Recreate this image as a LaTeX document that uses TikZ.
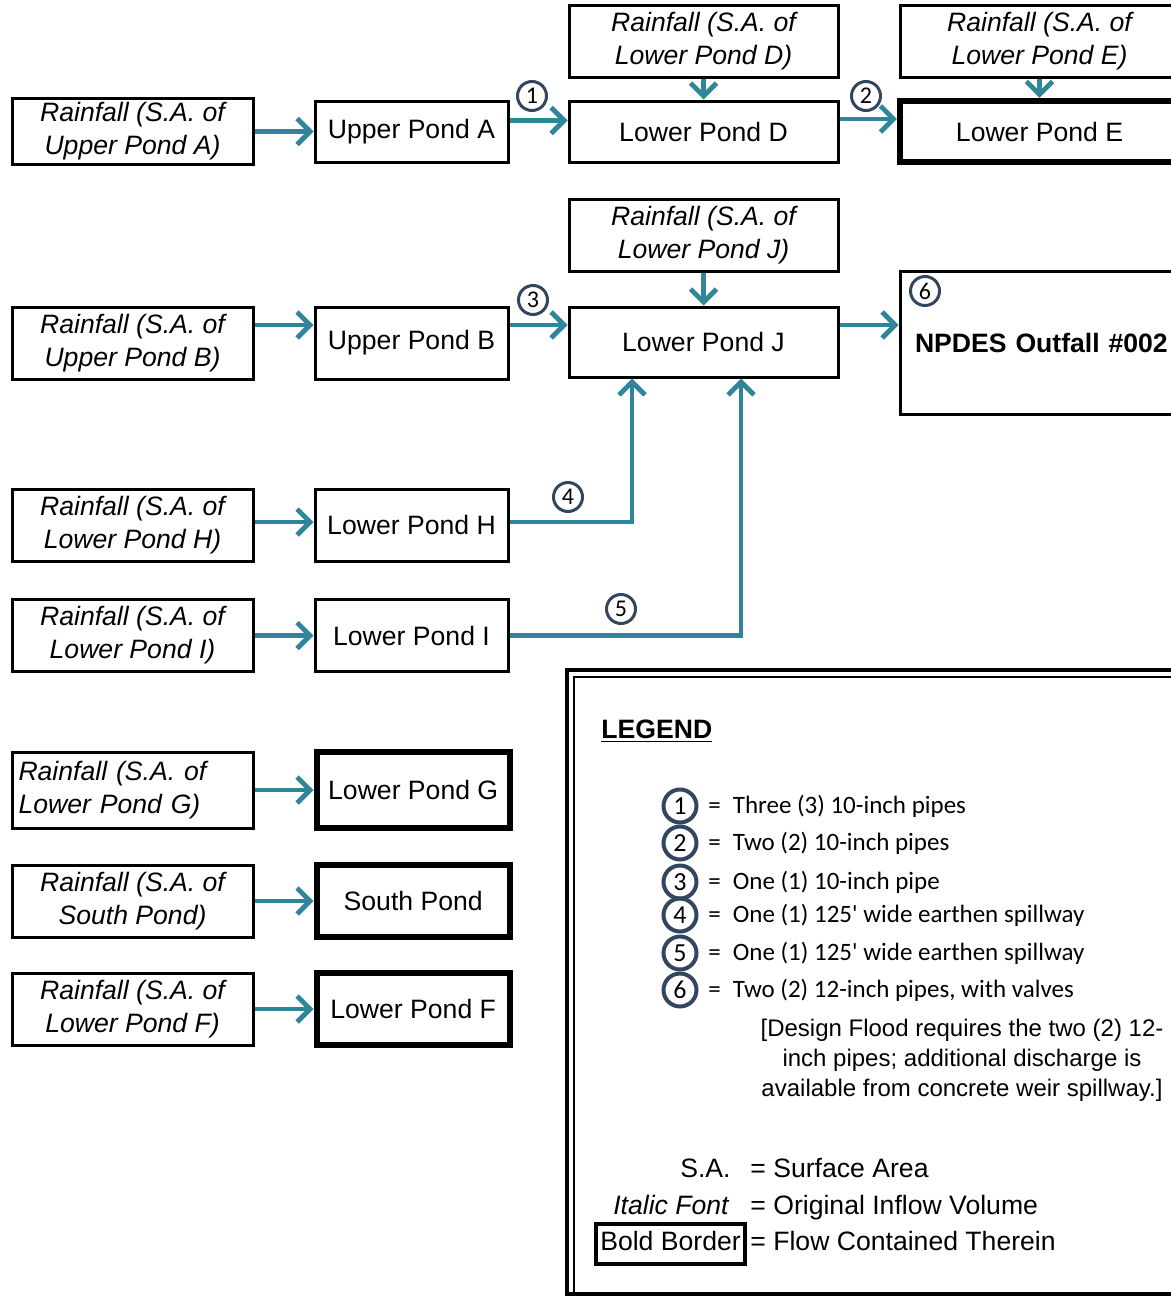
\documentclass[tikz,border=0pt]{standalone}
\usepackage{fontspec}
\setmainfont{Liberation Sans}
\newfontfamily\calibri{Carlito}
\usetikzlibrary{positioning, arrows.meta}
\definecolor{pipeteal}{RGB}{49,133,155}
\definecolor{ringblue}{RGB}{50,70,95}
\newcommand{\boxsize}{\fontsize{13.3}{16.5}\selectfont}
\tikzset{
x=0.5pt, y=-0.5pt, % one unit = one pixel of the sketch
node distance=29.5pt, % gap between rainfall box and its pond
pond/.style={draw, line width=1.5pt, font=\boxsize, align=center, minimum width=96.5pt, minimum height=36pt, inner sep=2pt},
rain/.style={pond, font=\boxsize\itshape, minimum width=120.5pt}, % original inflow
wide/.style={minimum width=134.5pt},
bold/.style={line width=3.2pt}, % flow contained therein
flow/.style={draw=pipeteal, line width=2.4pt, -{Straight Barb[length=6.5pt, width=13pt]}},
num/.style={circle, draw=ringblue, line width=1.5pt, minimum size=14.5pt, inner sep=0pt, font=\calibri\fontsize{12}{12}\selectfont},
lnum/.style={num, minimum size=16.5pt, line width=2pt, font=\calibri\fontsize{13}{13}\selectfont},
ltext/.style={anchor=west, inner sep=0pt, font=\calibri\fontsize{12.5}{15}\selectfont},
key/.style={inner sep=0pt, font=\boxsize, text height=1.6ex, text depth=.3ex},
}
\begin{document}
\begin{tikzpicture}
\useasboundingbox (0,0) rectangle (1171,1296);

% left column
\node[rain, minimum height=30.5pt] (rainA) at (132.5,131.5) {Rainfall (S.A. of\\Upper Pond A)};
\node[pond, minimum height=30.5pt, right=of rainA] (upA) {Upper Pond A};
\node[rain] (rainB) at (132.5,343) {Rainfall (S.A. of\\Upper Pond B)};
\node[pond, right=of rainB] (upB) {Upper Pond B};
\node[rain] (rainH) at (132.5,525) {Rainfall (S.A. of\\Lower Pond H)};
\node[pond, right=of rainH] (lowH) {Lower Pond H};
\node[rain] (rainI) at (132.5,635.5) {Rainfall (S.A. of\\Lower Pond I)};
\node[pond, right=of rainI] (lowI) {Lower Pond I};
\node[rain, minimum height=38pt, align=left, text width=114pt] (rainG) at (132.5,790) {Rainfall (S.A. of\\Lower Pond G)};
\node[pond, bold, minimum height=38pt, right=of rainG] (lowG) {Lower Pond G};
\node[rain] (rainS) at (132.5,901) {Rainfall (S.A. of\\South Pond)};
\node[pond, bold, right=of rainS] (south) {South Pond};
\node[rain] (rainF) at (132.5,1009) {Rainfall (S.A. of\\Lower Pond F)};
\node[pond, bold, right=of rainF] (lowF) {Lower Pond F};

% middle and right
\node[pond, wide, minimum height=30.5pt] (lowD) at (703.5,131.5) {Lower Pond D};
\node[rain, wide, above=10.5pt of lowD] (rainD) {Rainfall (S.A. of\\Lower Pond D)};
\node[pond, bold, minimum width=139.5pt, minimum height=30.5pt] (lowE) at (1039.5,131.5) {Lower Pond E};
\node[rain, minimum width=139.5pt, above=9.5pt of lowE] (rainE) {Rainfall (S.A. of\\Lower Pond E)};
\node[pond, wide, minimum height=35pt] (lowJ) at (703.5,342) {Lower Pond J};
\node[rain, wide, above=16.5pt of lowJ] (rainJ) {Rainfall (S.A. of\\Lower Pond J)};
\node[pond, font=\boxsize\bfseries, align=left, text width=130pt, inner xsep=7.5pt, minimum width=145pt, minimum height=71.5pt] (npdes) at (1045,342.5) {NPDES Outfall \#002};

% pipes and spillways
\draw[flow] (rainA) -- (upA);
\draw[flow] ([yshift=5.5pt]upA.east) -- ([yshift=5.5pt]lowD.west);
\draw[flow] (rainD) -- (lowD);
\draw[flow] ([yshift=6.25pt]lowD.east) -- ([yshift=6.25pt]lowE.west);
\draw[flow] (rainE) -- (lowE);
\draw[flow] ([yshift=9pt]rainB.east) -- ([yshift=9pt]upB.west);
\draw[flow] ([yshift=9pt]upB.east) -- ([yshift=8.5pt]lowJ.west);
\draw[flow] (rainJ) -- (lowJ);
\draw[flow] ([yshift=8.5pt]lowJ.east) -- ([yshift=8.75pt]npdes.west);
\draw[flow] ([yshift=1.5pt]rainH.east) -- ([yshift=1.5pt]lowH.west);
\draw[flow] ([yshift=1.5pt]lowH.east) -| ([xshift=-35.75pt]lowJ.south);
\draw[flow] (rainI) -- (lowI);
\draw[flow] (lowI.east) -| ([xshift=18.75pt]lowJ.south);
\draw[flow] (rainG) -- (lowG);
\draw[flow] (rainS) -- (south);
\draw[flow] (rainF) -- (lowF);

\node[num] (c1) at (532,96) {1};
\node[num] (c2) at (866,96) {2};
\node[num] (c3) at (533,300) {3};
\node[num] (c4) at (568,497) {4};
\node[num] (c5) at (621,609) {5};
\node[num] (c6) at (925,291) {6};

% legend
\draw[line width=1.8pt] (567,670) rectangle (1195,1294);
\draw[line width=1pt] (574,1300) -- (574,677) -- (1195,677);
\node[anchor=west, inner sep=0pt, font=\boxsize\bfseries] (legend) at (601,731) {\underline{LEGEND}};

\node[lnum] (l1) at (680,806) {1};
\node[ltext] at (708,806) {=\hspace{6pt}Three (3) 10-inch pipes};
\node[lnum] (l2) at (680,843) {2};
\node[ltext] at (708,843) {=\hspace{6pt}Two (2) 10-inch pipes};
\node[lnum] (l3) at (680,882) {3};
\node[ltext] at (708,882) {=\hspace{6pt}One (1) 10-inch pipe};
\node[lnum] (l4) at (680,915) {4};
\node[ltext] at (708,915) {=\hspace{6pt}One (1) 125' wide earthen spillway};
\node[lnum] (l5) at (680,953) {5};
\node[ltext] at (708,953) {=\hspace{6pt}One (1) 125' wide earthen spillway};
\node[lnum] (l6) at (680,990) {6};
\node[ltext] at (708,990) {=\hspace{6pt}Two (2) 12-inch pipes, with valves};
\node[align=center, inner sep=0pt, font=\fontsize{12}{15}\selectfont] (flood) at (962,1060) {[Design Flood requires the two (2) 12-\\inch pipes; additional discharge is\\available from concrete weir spillway.]};

\node[key, anchor=east] (sa) at (731,1171) {S.A.};
\node[key, anchor=west] at (750,1171) {= Surface Area};
\node[key, anchor=east, font=\boxsize\itshape] (ital) at (729,1208) {Italic Font};
\node[key, anchor=west] at (750,1208) {= Original Inflow Volume};
\node[key, draw, line width=2pt, inner sep=1pt, minimum width=74.5pt, minimum height=20pt] (bb) at (670.5,1244) {Bold Border};
\node[key, anchor=west] at (750,1244) {= Flow Contained Therein};
\end{tikzpicture}
\end{document}
